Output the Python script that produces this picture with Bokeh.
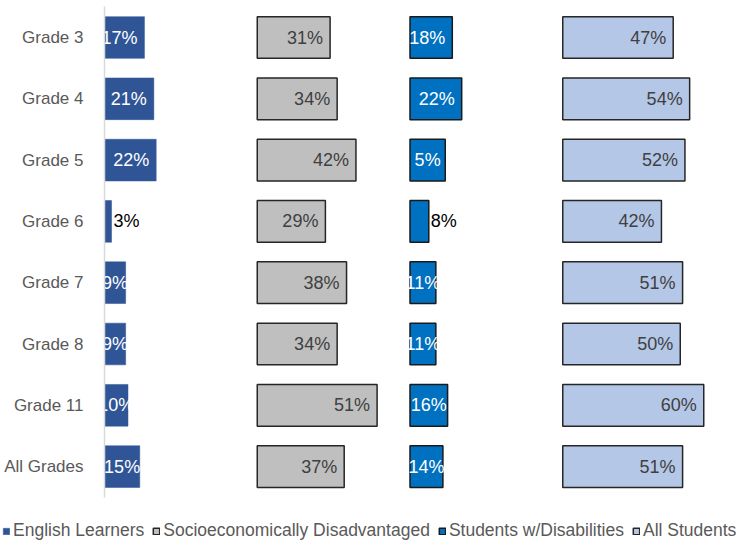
from bokeh.plotting import figure
from bokeh.models import (ColumnDataSource, Range1d, Legend, LegendItem, LinearAxis,
                          FixedTicker)
from bokeh.core.properties import value
from bokeh.embed import file_html
from bokeh.resources import INLINE

categories = ["Grade 3", "Grade 4", "Grade 5", "Grade 6", "Grade 7", "Grade 8", "Grade 11", "All Grades"]
series_names = ["English Learners", "Socioeconomically Disadvantaged", "Students w/Disabilities", "All Students"]
english_learners = [17, 21, 22, 3, 9, 9, 10, 15]
socio_disadvantaged = [31, 34, 42, 29, 38, 34, 51, 37]
students_disabilities = [18, 22, 15, 8, 11, 11, 16, 14]
all_students = [47, 54, 52, 42, 51, 50, 60, 51]
# data labels as printed in the chart (one label shows clipped as "5%")
el_labels = ["17%", "21%", "22%", "3%", "9%", "9%", "10%", "15%"]
sed_labels = ["31%", "34%", "42%", "29%", "38%", "34%", "51%", "37%"]
swd_labels = ["18%", "22%", "5%", "8%", "11%", "11%", "16%", "14%"]
all_labels = ["47%", "54%", "52%", "42%", "51%", "50%", "60%", "51%"]

FONT = "'Liberation Sans', Arial, sans-serif"
PANEL_GAP = 65
fills = ["#2F5597", "#BFBFBF", "#0070C0", "#B4C7E7"]
lines = ["#2F5597", "#262626", "#1a1a1a", "#262626"]
widths = [0.5, 1.5, 1.5, 1.5]
inner_text = ["white", "#404040", "white", "#404040"]

W, H = 739, 544
AXIS_PX = 104         # axis position from the left edge of the figure
PX_PER_UNIT = 2.35    # horizontal scale
ROW_PX = 61.3         # height of one category row
TOP_PX = 37           # centre of first row from top

pos = list(range(len(categories)))
p = figure(width=W, height=H, output_backend="svg", toolbar_location=None,
           x_range=Range1d(-AXIS_PX / PX_PER_UNIT, (W - AXIS_PX) / PX_PER_UNIT),
           y_range=Range1d((H - TOP_PX) / ROW_PX, -TOP_PX / ROW_PX),
           x_axis_location=None, y_axis_location=None,
           min_border_left=0, min_border_right=0, min_border_top=0, min_border_bottom=0)
p.outline_line_color = None
p.xgrid.visible = False
p.ygrid.visible = False

yax = LinearAxis(fixed_location=0, ticker=FixedTicker(ticks=pos),
                 major_label_overrides={i: c for i, c in zip(pos, categories)},
                 bounds=(pos[0] - 0.5, pos[-1] + 0.5))
yax.axis_line_color = "#D9D9D9"
yax.axis_line_width = 1.5
yax.major_tick_line_color = None
yax.minor_tick_line_color = None
yax.major_label_standoff = 15
yax.major_label_text_font = FONT
yax.major_label_text_font_size = "17px"
yax.major_label_text_color = "#595959"
p.add_layout(yax, "left")

renderers = []
series = [english_learners, socio_disadvantaged, students_disabilities, all_students]
labels = [el_labels, sed_labels, swd_labels, all_labels]
for i, (vals, labs) in enumerate(zip(series, labels)):
    off = i * PANEL_GAP
    left = [off] * len(vals)
    right = [off + v for v in vals]
    lx, la, lo, lc = [], [], [], []
    for v in vals:
        if v < 9:
            lx.append(off + v); la.append("left"); lo.append(2); lc.append("black")
        elif v < 17:
            lx.append(off + v / 2); la.append("center"); lo.append(0); lc.append(inner_text[i])
        else:
            lx.append(off + v); la.append("right"); lo.append(-7); lc.append(inner_text[i])
    src = ColumnDataSource(dict(y=pos, left=left, right=right, lx=lx, la=la, lo=lo, lc=lc,
                                txt=labs))
    r = p.hbar(y="y", left="left", right="right", height=0.68, source=src,
               fill_color=fills[i], line_color=lines[i], line_width=widths[i])
    renderers.append(r)
    p.text(x="lx", y="y", text="txt", source=src, text_align="la", x_offset="lo",
           text_color="lc", text_baseline="middle", text_font=value(FONT),
           text_font_size="18px")

legend = Legend(items=[LegendItem(label=n, renderers=[r]) for n, r in zip(series_names, renderers)],
                orientation="horizontal", location=(2, 3),
                label_text_font=FONT, label_text_font_size="17.5px", label_text_color="#595959",
                label_height=18, glyph_width=8, glyph_height=8, label_standoff=3, spacing=8,
                padding=0, margin=0, border_line_color=None, background_fill_alpha=0)
p.add_layout(legend, "center")

open("out.html", "w").write(file_html(p, INLINE))
